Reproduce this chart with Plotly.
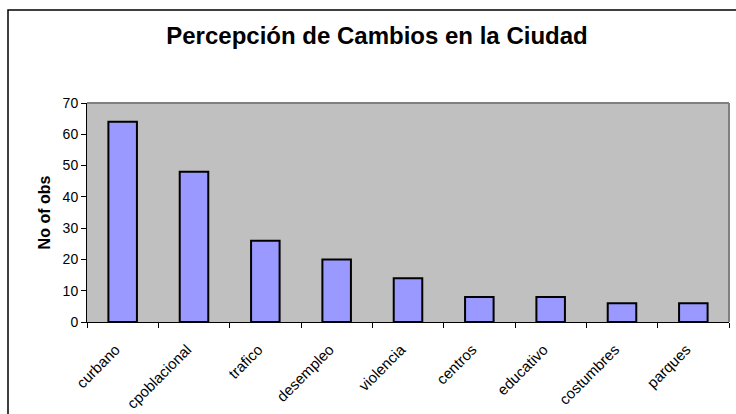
import plotly.graph_objects as go

categories = ["curbano", "cpoblacional", "trafico", "desempleo", "violencia",
              "centros", "educativo", "costumbres", "parques"]
values = [64, 48, 26, 20, 14, 8, 8, 6, 6]
y_ticks = [0, 10, 20, 30, 40, 50, 60, 70]

W, H = 736, 414
L, R, T, B = 87, 7, 103, 92

fig = go.Figure(go.Bar(
    x=categories, y=values,
    marker=dict(color="#9999FF", line=dict(color="black", width=2)),
    width=0.4,
))

fig.update_layout(
    width=W, height=H,
    margin=dict(l=L, r=R, t=T, b=B, autoexpand=False),
    paper_bgcolor="white", plot_bgcolor="#C0C0C0",
    font=dict(family="Liberation Sans, Arial", color="black", size=14),
    title=dict(text="<b>Percepción de Cambios en la Ciudad</b>",
               font=dict(size=24, color="black"),
               x=377 / W, xanchor="center", y=1 - 36 / H, yanchor="middle",
               xref="container", yref="container"),
    showlegend=False,
    bargap=0.6,
    xaxis=dict(
        tickangle=-45, ticks="outside", ticklen=5, tickcolor="black",
        tickson="boundaries", showline=True, linecolor="black", linewidth=1,
        showgrid=False, tickfont=dict(size=15),
        ticklabelstandoff=12, ticklabelshift=-7,
    ),
    yaxis=dict(
        range=[0, 70], tickvals=y_ticks, ticks="outside", ticklen=5,
        tickcolor="black", showline=True, linecolor="black", linewidth=1,
        showgrid=False, zeroline=False, tickfont=dict(size=14),
        title=dict(text="<b>No of obs</b>", font=dict(size=16), standoff=8),
    ),
    shapes=[
        dict(type="line", xref="paper", yref="paper", x0=0, x1=1, y0=1, y1=1,
             line=dict(color="#808080", width=2)),
        dict(type="line", xref="paper", yref="paper", x0=1, x1=1, y0=0, y1=1,
             line=dict(color="#808080", width=2)),
        dict(type="rect", xref="paper", yref="paper",
             x0=(8 - L) / (W - L - R), x1=(W + 5 - L) / (W - L - R),
             y0=-(B + 5) / (H - T - B), y1=1 + (T - 10) / (H - T - B),
             line=dict(color="black", width=1.5), layer="below"),
    ],
)

fig.write_html("out.html", config={"displayModeBar": False},
               post_script="document.body.style.margin='0';document.body.style.overflow='hidden';")
